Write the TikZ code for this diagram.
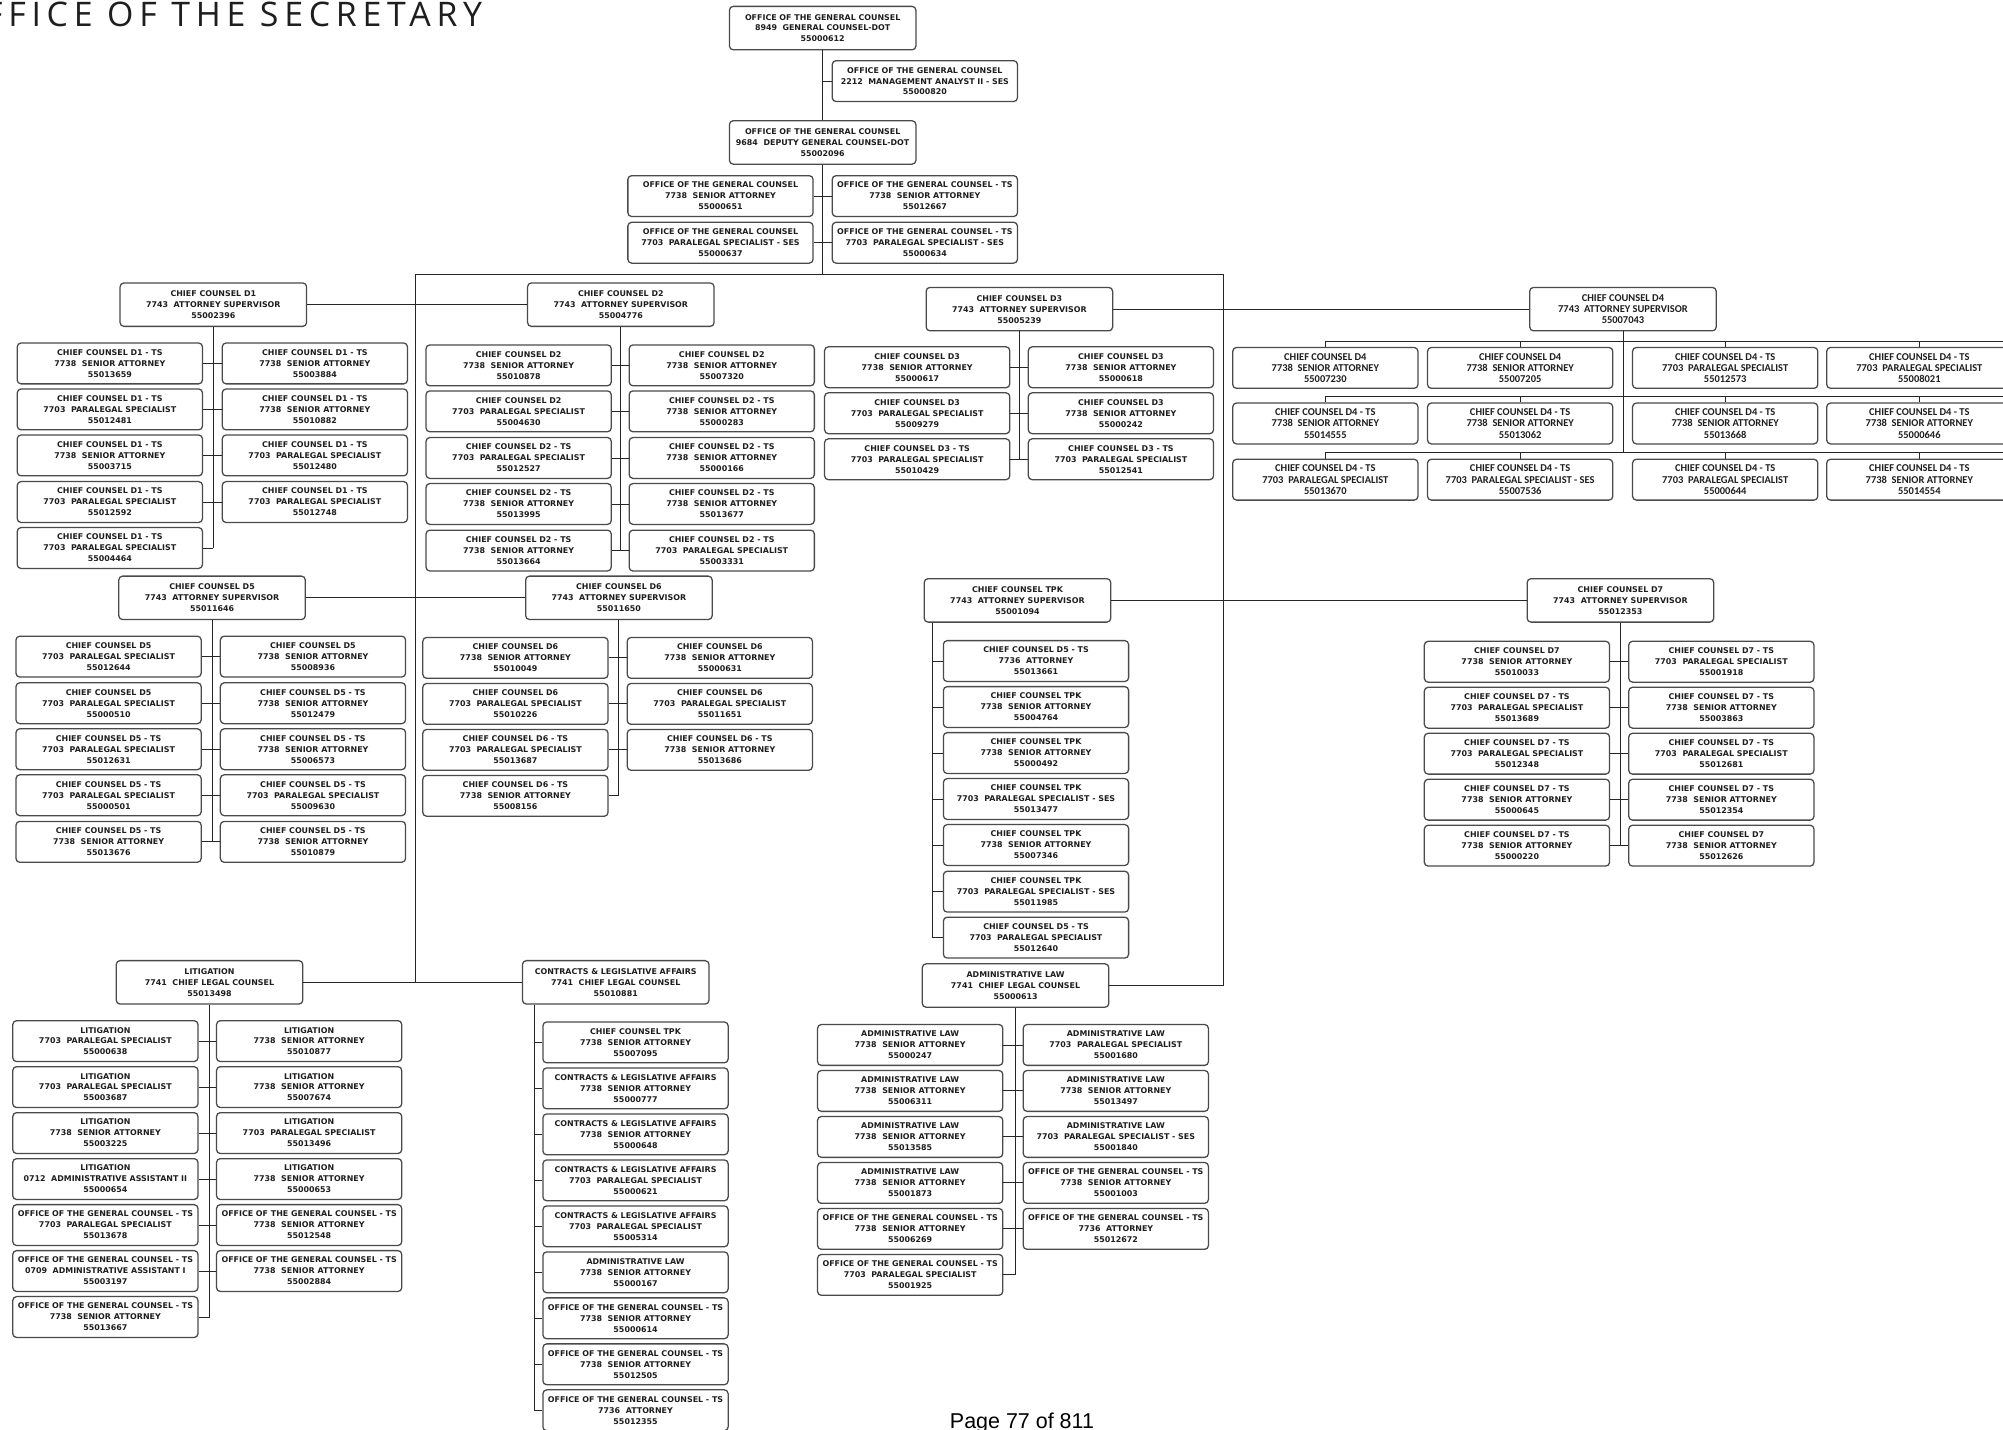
\documentclass[tikz,border=0pt]{standalone}
\usepackage{fontspec}
\setmainfont{DejaVu Sans}
\newfontfamily\headfont[LetterSpace=17]{Open Sans}
\newfontfamily\footfont{Liberation Sans}
\newfontfamily\narrowfont{Carlito}
\definecolor{ink}{HTML}{1E1E1E}
\definecolor{rim}{HTML}{4A4A4A}
% position titles
\newcommand{\tSA}{7738\ \ SENIOR ATTORNEY}
\newcommand{\tPS}{7703\ \ PARALEGAL SPECIALIST}
\newcommand{\tPSS}{7703\ \ PARALEGAL SPECIALIST - SES}
\newcommand{\tAS}{7743\ \ ATTORNEY SUPERVISOR}
\newcommand{\tCLC}{7741\ \ CHIEF LEGAL COUNSEL}
\newcommand{\tAT}{7736\ \ ATTORNEY}
\newcommand{\OGC}{OFFICE OF THE GENERAL COUNSEL}
\newcommand{\CLA}{CONTRACTS \& LEGISLATIVE AFFAIRS}
% one position box: [style]{name}{x,y}{unit}{title}{number}
\newcommand{\emp}[6][pbox]{\node[#1] (#2) at (#3) {#4\\#5\\#6};}
\tikzset{
  pbox/.style={draw=rim, fill=white, line width=1pt, rounded corners=3pt,
    minimum width=145pt, minimum height=32pt, inner sep=0pt, align=center,
    text=ink, font=\fontsize{6.2}{8.6}\selectfont\bfseries},
  sbox/.style={pbox, minimum width=146pt, minimum height=34pt},
  nbox/.style={pbox, font=\narrowfont\fontsize{8.2}{8.8}\selectfont\bfseries},
  nsbox/.style={sbox, font=\narrowfont\fontsize{8.2}{8.8}\selectfont\bfseries},
  link/.style={draw=black!85, line width=0.7pt},
}
\begin{document}
\begin{tikzpicture}[x=1pt,y=-1pt]
\useasboundingbox (0,0) rectangle (1568,1119);
\clip (0,0) rectangle (1568,1119);
\fill[white] (0,0) rectangle (1568,1119);

% heading (runs off the left edge) and page number
\node[anchor=base west, inner sep=0pt, text=ink,
  font=\headfont\fontsize{26.5}{27}\selectfont] (title) at (-37,20.5) {OFFICE OF THE SECRETARY};
\node[anchor=base, inner sep=0pt, text=black,
  font=\footfont\fontsize{16.8}{17}\selectfont] (page) at (800,1118.5) {Page 77 of 811};

% ---------------- general counsel ----------------
\emp[sbox]{gc}{644,22}{\OGC}{8949\ \ GENERAL COUNSEL-DOT}{55000612}
\emp{mgmt}{724,63.5}{\OGC}{2212\ \ MANAGEMENT ANALYST II - SES}{55000820}
\emp[sbox]{dep}{644,111.5}{\OGC}{9684\ \ DEPUTY GENERAL COUNSEL-DOT}{55002096}
\emp{o1l}{564,153.5}{\OGC}{\tSA}{55000651}
\emp{o1r}{724,153.5}{\OGC{} - TS}{\tSA}{55012667}
\emp{o2l}{564,190}{\OGC}{\tPSS}{55000637}
\emp{o2r}{724,190}{\OGC{} - TS}{\tPSS}{55000634}

% ---------------- D1 ----------------
\emp[sbox]{d1}{167,238.5}{CHIEF COUNSEL D1}{\tAS}{55002396}
\emp{d1l1}{86,284.5}{CHIEF COUNSEL D1 - TS}{\tSA}{55013659}
\emp{d1r1}{246.5,284.5}{CHIEF COUNSEL D1 - TS}{\tSA}{55003884}
\emp{d1l2}{86,320.5}{CHIEF COUNSEL D1 - TS}{\tPS}{55012481}
\emp{d1r2}{246.5,320.5}{CHIEF COUNSEL D1 - TS}{\tSA}{55010882}
\emp{d1l3}{86,356.5}{CHIEF COUNSEL D1 - TS}{\tSA}{55003715}
\emp{d1r3}{246.5,356.5}{CHIEF COUNSEL D1 - TS}{\tPS}{55012480}
\emp{d1l4}{86,393}{CHIEF COUNSEL D1 - TS}{\tPS}{55012592}
\emp{d1r4}{246.5,393}{CHIEF COUNSEL D1 - TS}{\tPS}{55012748}
\emp{d1l5}{86,429}{CHIEF COUNSEL D1 - TS}{\tPS}{55004464}

% ---------------- D2 ----------------
\emp[sbox]{d2}{486,238.5}{CHIEF COUNSEL D2}{\tAS}{55004776}
\emp{d2l1}{406,286}{CHIEF COUNSEL D2}{\tSA}{55010878}
\emp{d2r1}{565,286}{CHIEF COUNSEL D2}{\tSA}{55007320}
\emp{d2l2}{406,322}{CHIEF COUNSEL D2}{\tPS}{55004630}
\emp{d2r2}{565,322}{CHIEF COUNSEL D2 - TS}{\tSA}{55000283}
\emp{d2l3}{406,358.5}{CHIEF COUNSEL D2 - TS}{\tPS}{55012527}
\emp{d2r3}{565,358.5}{CHIEF COUNSEL D2 - TS}{\tSA}{55000166}
\emp{d2l4}{406,394.5}{CHIEF COUNSEL D2 - TS}{\tSA}{55013995}
\emp{d2r4}{565,394.5}{CHIEF COUNSEL D2 - TS}{\tSA}{55013677}
\emp{d2l5}{406,431}{CHIEF COUNSEL D2 - TS}{\tSA}{55013664}
\emp{d2r5}{565,431}{CHIEF COUNSEL D2 - TS}{\tPS}{55003331}

% ---------------- D3 ----------------
\emp[sbox]{d3}{798,242}{CHIEF COUNSEL D3}{\tAS}{55005239}
\emp{d3l1}{718,287.5}{CHIEF COUNSEL D3}{\tSA}{55000617}
\emp{d3r1}{877.5,287.5}{CHIEF COUNSEL D3}{\tSA}{55000618}
\emp{d3l2}{718,323.5}{CHIEF COUNSEL D3}{\tPS}{55009279}
\emp{d3r2}{877.5,323.5}{CHIEF COUNSEL D3}{\tSA}{55000242}
\emp{d3l3}{718,359.5}{CHIEF COUNSEL D3 - TS}{\tPS}{55010429}
\emp{d3r3}{877.5,359.5}{CHIEF COUNSEL D3 - TS}{\tPS}{55012541}

% ---------------- D4 ----------------
\emp[nsbox]{d4}{1270.5,242}{CHIEF COUNSEL D4}{\tAS}{55007043}
\emp[nbox]{d4a1}{1037.5,288}{CHIEF COUNSEL D4}{\tSA}{55007230}
\emp[nbox]{d4b1}{1190,288}{CHIEF COUNSEL D4}{\tSA}{55007205}
\emp[nbox]{d4c1}{1350.5,288}{CHIEF COUNSEL D4 - TS}{\tPS}{55012573}
\emp[nbox]{d4d1}{1502.5,288}{CHIEF COUNSEL D4 - TS}{\tPS}{55008021}
\emp[nbox]{d4a2}{1037.5,331.5}{CHIEF COUNSEL D4 - TS}{\tSA}{55014555}
\emp[nbox]{d4b2}{1190,331.5}{CHIEF COUNSEL D4 - TS}{\tSA}{55013062}
\emp[nbox]{d4c2}{1350.5,331.5}{CHIEF COUNSEL D4 - TS}{\tSA}{55013668}
\emp[nbox]{d4d2}{1502.5,331.5}{CHIEF COUNSEL D4 - TS}{\tSA}{55000646}
\emp[nbox]{d4a3}{1037.5,375.5}{CHIEF COUNSEL D4 - TS}{\tPS}{55013670}
\emp[nbox]{d4b3}{1190,375.5}{CHIEF COUNSEL D4 - TS}{\tPSS}{55007536}
\emp[nbox]{d4c3}{1350.5,375.5}{CHIEF COUNSEL D4 - TS}{\tPS}{55000644}
\emp[nbox]{d4d3}{1502.5,375.5}{CHIEF COUNSEL D4 - TS}{\tSA}{55014554}

% ---------------- D5 ----------------
\emp[sbox]{d5}{166,468}{CHIEF COUNSEL D5}{\tAS}{55011646}
\emp{d5l1}{85,514}{CHIEF COUNSEL D5}{\tPS}{55012644}
\emp{d5r1}{245,514}{CHIEF COUNSEL D5}{\tSA}{55008936}
\emp{d5l2}{85,550.5}{CHIEF COUNSEL D5}{\tPS}{55000510}
\emp{d5r2}{245,550.5}{CHIEF COUNSEL D5 - TS}{\tSA}{55012479}
\emp{d5l3}{85,586.5}{CHIEF COUNSEL D5 - TS}{\tPS}{55012631}
\emp{d5r3}{245,586.5}{CHIEF COUNSEL D5 - TS}{\tSA}{55006573}
\emp{d5l4}{85,622.5}{CHIEF COUNSEL D5 - TS}{\tPS}{55000501}
\emp{d5r4}{245,622.5}{CHIEF COUNSEL D5 - TS}{\tPS}{55009630}
\emp{d5l5}{85,659}{CHIEF COUNSEL D5 - TS}{\tSA}{55013676}
\emp{d5r5}{245,659}{CHIEF COUNSEL D5 - TS}{\tSA}{55010879}

% ---------------- D6 ----------------
\emp[sbox]{d6}{484.5,468}{CHIEF COUNSEL D6}{\tAS}{55011650}
\emp{d6l1}{403.5,515}{CHIEF COUNSEL D6}{\tSA}{55010049}
\emp{d6r1}{563.5,515}{CHIEF COUNSEL D6}{\tSA}{55000631}
\emp{d6l2}{403.5,551}{CHIEF COUNSEL D6}{\tPS}{55010226}
\emp{d6r2}{563.5,551}{CHIEF COUNSEL D6}{\tPS}{55011651}
\emp{d6l3}{403.5,587}{CHIEF COUNSEL D6 - TS}{\tPS}{55013687}
\emp{d6r3}{563.5,587}{CHIEF COUNSEL D6 - TS}{\tSA}{55013686}
\emp{d6l4}{403.5,623}{CHIEF COUNSEL D6 - TS}{\tSA}{55008156}

% ---------------- TPK ----------------
\emp[sbox]{tpk}{796.5,470}{CHIEF COUNSEL TPK}{\tAS}{55001094}
\emp{tpk1}{811,517.5}{CHIEF COUNSEL D5 - TS}{\tAT}{55013661}
\emp{tpk2}{811,553.5}{CHIEF COUNSEL TPK}{\tSA}{55004764}
\emp{tpk3}{811,589.5}{CHIEF COUNSEL TPK}{\tSA}{55000492}
\emp{tpk4}{811,625.5}{CHIEF COUNSEL TPK}{\tPSS}{55013477}
\emp{tpk5}{811,661.5}{CHIEF COUNSEL TPK}{\tSA}{55007346}
\emp{tpk6}{811,698}{CHIEF COUNSEL TPK}{\tPSS}{55011985}
\emp{tpk7}{811,734}{CHIEF COUNSEL D5 - TS}{\tPS}{55012640}

% ---------------- D7 ----------------
\emp[sbox]{d7}{1268.5,470}{CHIEF COUNSEL D7}{\tAS}{55012353}
\emp{d7l1}{1187.5,518}{CHIEF COUNSEL D7}{\tSA}{55010033}
\emp{d7r1}{1347.5,518}{CHIEF COUNSEL D7 - TS}{\tPS}{55001918}
\emp{d7l2}{1187.5,554}{CHIEF COUNSEL D7 - TS}{\tPS}{55013689}
\emp{d7r2}{1347.5,554}{CHIEF COUNSEL D7 - TS}{\tSA}{55003863}
\emp{d7l3}{1187.5,590}{CHIEF COUNSEL D7 - TS}{\tPS}{55012348}
\emp{d7r3}{1347.5,590}{CHIEF COUNSEL D7 - TS}{\tPS}{55012681}
\emp{d7l4}{1187.5,626}{CHIEF COUNSEL D7 - TS}{\tSA}{55000645}
\emp{d7r4}{1347.5,626}{CHIEF COUNSEL D7 - TS}{\tSA}{55012354}
\emp{d7l5}{1187.5,662}{CHIEF COUNSEL D7 - TS}{\tSA}{55000220}
\emp{d7r5}{1347.5,662}{CHIEF COUNSEL D7}{\tSA}{55012626}

% ---------------- litigation ----------------
\emp[sbox]{lit}{164,769}{LITIGATION}{\tCLC}{55013498}
\emp{litl1}{82.5,815}{LITIGATION}{\tPS}{55000638}
\emp{litr1}{242,815}{LITIGATION}{\tSA}{55010877}
\emp{litl2}{82.5,851}{LITIGATION}{\tPS}{55003687}
\emp{litr2}{242,851}{LITIGATION}{\tSA}{55007674}
\emp{litl3}{82.5,887}{LITIGATION}{\tSA}{55003225}
\emp{litr3}{242,887}{LITIGATION}{\tPS}{55013496}
\emp{litl4}{82.5,923}{LITIGATION}{0712\ \ ADMINISTRATIVE ASSISTANT II}{55000654}
\emp{litr4}{242,923}{LITIGATION}{\tSA}{55000653}
\emp{litl5}{82.5,959}{\OGC{} - TS}{\tPS}{55013678}
\emp{litr5}{242,959}{\OGC{} - TS}{\tSA}{55012548}
\emp{litl6}{82.5,995}{\OGC{} - TS}{0709\ \ ADMINISTRATIVE ASSISTANT I}{55003197}
\emp{litr6}{242,995}{\OGC{} - TS}{\tSA}{55002884}
\emp{litl7}{82.5,1031}{\OGC{} - TS}{\tSA}{55013667}

% ---------------- contracts & legislative affairs ----------------
\emp[sbox]{con}{482,769}{\CLA}{\tCLC}{55010881}
\emp{con1}{497.5,816}{CHIEF COUNSEL TPK}{\tSA}{55007095}
\emp{con2}{497.5,852}{\CLA}{\tSA}{55000777}
\emp{con3}{497.5,888}{\CLA}{\tSA}{55000648}
\emp{con4}{497.5,924}{\CLA}{\tPS}{55000621}
\emp{con5}{497.5,960}{\CLA}{\tPS}{55005314}
\emp{con6}{497.5,996}{ADMINISTRATIVE LAW}{\tSA}{55000167}
\emp{con7}{497.5,1032}{\OGC{} - TS}{\tSA}{55000614}
\emp{con8}{497.5,1068}{\OGC{} - TS}{\tSA}{55012505}
\emp{con9}{497.5,1104}{\OGC{} - TS}{\tAT}{55012355}

% ---------------- administrative law ----------------
\emp[sbox]{adm}{795,771.5}{ADMINISTRATIVE LAW}{\tCLC}{55000613}
\emp{adml1}{712.5,818}{ADMINISTRATIVE LAW}{\tSA}{55000247}
\emp{admr1}{873.5,818}{ADMINISTRATIVE LAW}{\tPS}{55001680}
\emp{adml2}{712.5,854}{ADMINISTRATIVE LAW}{\tSA}{55006311}
\emp{admr2}{873.5,854}{ADMINISTRATIVE LAW}{\tSA}{55013497}
\emp{adml3}{712.5,890}{ADMINISTRATIVE LAW}{\tSA}{55013585}
\emp{admr3}{873.5,890}{ADMINISTRATIVE LAW}{\tPSS}{55001840}
\emp{adml4}{712.5,926}{ADMINISTRATIVE LAW}{\tSA}{55001873}
\emp{admr4}{873.5,926}{\OGC{} - TS}{\tSA}{55001003}
\emp{adml5}{712.5,962}{\OGC{} - TS}{\tSA}{55006269}
\emp{admr5}{873.5,962}{\OGC{} - TS}{\tAT}{55012672}
\emp{adml6}{712.5,998}{\OGC{} - TS}{\tPS}{55001925}

% ---------------- connectors ----------------
\coordinate (busl) at (325,215);
\coordinate (busr) at (958,215);
\draw[link] (gc.south) -- (dep.north);
\draw[link] (mgmt.west) -- (gc.south |- mgmt.west);
\draw[link] (o1l.east) -- (o1r.west);
\draw[link] (o2l.east) -- (o2r.west);
\draw[link] (dep.south) -- (dep.south |- busl);
\draw[link] (busl) -- (busr);
\draw[link] (busl) -- (busl |- con.west);
\draw[link] (busr) -- (busr |- adm.east) -- (adm.east);
\draw[link] (d1.east) -- (d2.west);
\draw[link] (d3.east) -- (d4.west);
\draw[link] (d5.east) -- (d6.west);
\draw[link] (tpk.east) -- (d7.west);
\draw[link] (lit.east) -- (con.west);

% two-column groups: spine plus row ties
\draw[link] (d1.south) -- (d1.south |- d1l5.east);
\foreach \i in {1,...,4} \draw[link] (d1l\i.east) -- (d1r\i.west);
\draw[link] (d1l5.east) -- (d1.south |- d1l5.east);

\draw[link] (d2.south) -- (d2.south |- d2l5.east);
\foreach \i in {1,...,5} \draw[link] (d2l\i.east) -- (d2r\i.west);

\draw[link] (d3.south) -- (d3.south |- d3l3.east);
\foreach \i in {1,...,3} \draw[link] (d3l\i.east) -- (d3r\i.west);

\draw[link] (d5.south) -- (d5.south |- d5l5.east);
\foreach \i in {1,...,5} \draw[link] (d5l\i.east) -- (d5r\i.west);

\draw[link] (d6.south) -- (d6.south |- d6l4.east);
\foreach \i in {1,...,3} \draw[link] (d6l\i.east) -- (d6r\i.west);
\draw[link] (d6l4.east) -- (d6.south |- d6l4.east);

\draw[link] (d7.south) -- (d7.south |- d7l5.east);
\foreach \i in {1,...,5} \draw[link] (d7l\i.east) -- (d7r\i.west);

\draw[link] (lit.south) -- (lit.south |- litl7.east);
\foreach \i in {1,...,6} \draw[link] (litl\i.east) -- (litr\i.west);
\draw[link] (litl7.east) -- (lit.south |- litl7.east);

\draw[link] (adm.south) -- (adm.south |- adml6.east);
\foreach \i in {1,...,5} \draw[link] (adml\i.east) -- (admr\i.west);
\draw[link] (adml6.east) -- (adm.south |- adml6.east);

% D4: row buses running on past the right edge
\coordinate (d4e1) at (1600,267);
\coordinate (d4e2) at (1600,310.5);
\coordinate (d4e3) at (1600,354);
\draw[link] (d4.south) -- (d4.south |- d4e3);
\foreach \r in {1,2,3} {
  \draw[link] (d4a\r.north) |- (d4e\r);
  \draw[link] (d4b\r.north) -- (d4b\r.north |- d4e\r);
  \draw[link] (d4c\r.north) -- (d4c\r.north |- d4e\r);
  \draw[link] (d4d\r.north) -- (d4d\r.north |- d4e\r);
}

% single-column groups: spine on the left
\coordinate (tpkv) at ([xshift=7pt]tpk.south west);
\draw[link] (tpkv) -- (tpkv |- tpk7.west);
\foreach \i in {1,...,7} \draw[link] (tpk\i.west) -- (tpkv |- tpk\i.west);

\coordinate (conv) at ([xshift=9.5pt]con.south west);
\draw[link] (conv) -- (conv |- con9.west);
\foreach \i in {1,...,9} \draw[link] (con\i.west) -- (conv |- con\i.west);
\end{tikzpicture}
\end{document}
